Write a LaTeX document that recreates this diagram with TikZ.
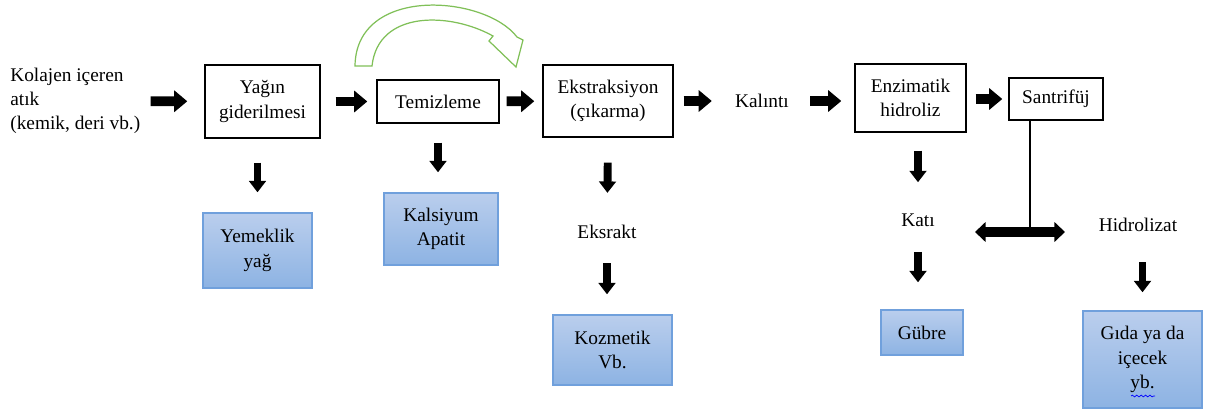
\documentclass[tikz,border=0pt]{standalone}
\usepackage{fontspec}
\setmainfont{Liberation Serif}
\usetikzlibrary{positioning}
\usetikzlibrary{calc,arrows.meta,decorations.pathmorphing}
\definecolor{kutumavi}{RGB}{112,160,220}
\definecolor{acikmavi}{RGB}{186,206,237}
\definecolor{koyumavi}{RGB}{141,179,227}
\definecolor{okyesil}{RGB}{128,192,88}

\begin{document}
\begin{tikzpicture}[x=0.02cm,y=-0.02cm,
  font=\fontsize{11}{13.8}\selectfont,
  kutu/.style={draw,line width=0.8pt,fill=white,align=center,inner sep=2pt},
  mavikutu/.style={draw=kutumavi,line width=0.8pt,top color=acikmavi,bottom color=koyumavi,align=center,inner sep=2pt},
  yazi/.style={inner sep=0pt,align=center},
  kalin/.style={line width=5.5pt,-{Triangle[width=12pt,length=7.5pt]}},
  dikey/.style={line width=4.5pt,-{Triangle[width=9.5pt,length=6.5pt]}},
  ciftkalin/.style={line width=5.5pt,{Triangle[width=11pt,length=6pt]}-{Triangle[width=11pt,length=6pt]}}]
\useasboundingbox (0,0) rectangle (1211,412);

\path
(10,101) node [yazi,anchor=west,align=left](src) {Kolajen içeren\\atık\\(kemik, deri vb.)}
(262.5,101.5) node [kutu,minimum width=2.3cm,minimum height=1.46cm](yag) {Yağın\\giderilmesi}
(438,101.5) node [kutu,minimum width=2.44cm,minimum height=0.86cm](tem) {Temizleme}
(608,101) node [kutu,minimum width=2.6cm,minimum height=1.44cm](eks) {Ekstraksiyon\\(çıkarma)}
(762,101) node [yazi](kal) {Kalıntı}
(910.5,98) node [kutu,minimum width=2.22cm,minimum height=1.36cm](enz) {Enzimatik\\hidroliz}
(1056,99) node [kutu,minimum width=1.88cm,minimum height=0.84cm](san) {Santrifüj};

\path
(257.5,250.5) node [mavikutu,minimum width=2.18cm,minimum height=1.5cm](yemek) {Yemeklik\\yağ}
(441,229) node [mavikutu,minimum width=2.28cm,minimum height=1.44cm](kals) {Kalsiyum\\Apatit}
(607,232) node [yazi](eksr) {Eksrakt}
(612.5,350) node [mavikutu,minimum width=2.38cm,minimum height=1.4cm](kozm) {Kozmetik\\Vb.}
(918,220) node [yazi](kati) {Katı}
(1138,225) node [yazi](hidro) {Hidrolizat}
(922,332.5) node [mavikutu,minimum width=1.64cm,minimum height=0.9cm](gubre) {Gübre}
(1142.5,359.5) node [mavikutu,minimum width=2.38cm,minimum height=1.94cm](gida) {Gıda ya da\\içecek\\yb.};

% ana akis
\draw [kalin,shorten <=0.2cm,shorten >=0.34cm](src) --(yag);
\draw [kalin,shorten <=0.3cm,shorten >=0.18cm](yag) --(tem);
\draw [kalin,shorten <=0.14cm,shorten >=0.16cm](tem) --(eks);
\draw [kalin,shorten <=0.2cm,shorten >=0.46cm](eks) --(kal);
\draw [kalin,shorten <=0.42cm,shorten >=0.26cm](kal) --(kal -| enz.west);
\draw [kalin,shorten <=0.18cm,shorten >=0.12cm](enz.east |- san) --(san);

% yan urunler
\draw [dikey,shorten <=0.48cm,shorten >=0.4cm](yemek.north |- yag.south) --(yemek.north);
\draw [dikey,shorten <=0.38cm,shorten >=0.4cm](tem.south) --(tem.south |- kals.north);
\draw [dikey,shorten <=0.5cm,shorten >=0.64cm](eks.south) --(eksr);
\draw [dikey,shorten <=0.48cm,shorten >=0.4cm](eksr.south) --(eksr.south |- kozm.north);
\draw [dikey,shorten <=0.36cm,shorten >=0.62cm](kati |- enz.south) --(kati);
\draw [dikey,shorten <=0.5cm,shorten >=0.54cm](kati.south) --(kati.south |- gubre.north);
\draw [dikey,shorten <=0.6cm,shorten >=0.36cm](gida.north |- hidro.south) --(gida.north);

% santrifuj ayrimi
\coordinate (ayrim) at (1030,232);
\coordinate (sol) at (975,232);
\coordinate (sag) at (1065,232);
\draw [line width=1.1pt](san.south -| ayrim) --(ayrim);
\draw [ciftkalin](sol) --(sag);

% yesil ok
\draw [okyesil,line width=0.7pt,fill=white] (355,66) .. controls (356,-15) and (485,-5) .. (517,37)
  -- (523,40) -- (516,67) -- (489,41) -- (493,36) .. controls (450,12) and (378,10) .. (372,66) -- cycle;

\draw [blue,decorate,decoration={snake,amplitude=0.5pt,segment length=2.5pt}](1131,396) --(1155,396);

\end{tikzpicture}
\end{document}
